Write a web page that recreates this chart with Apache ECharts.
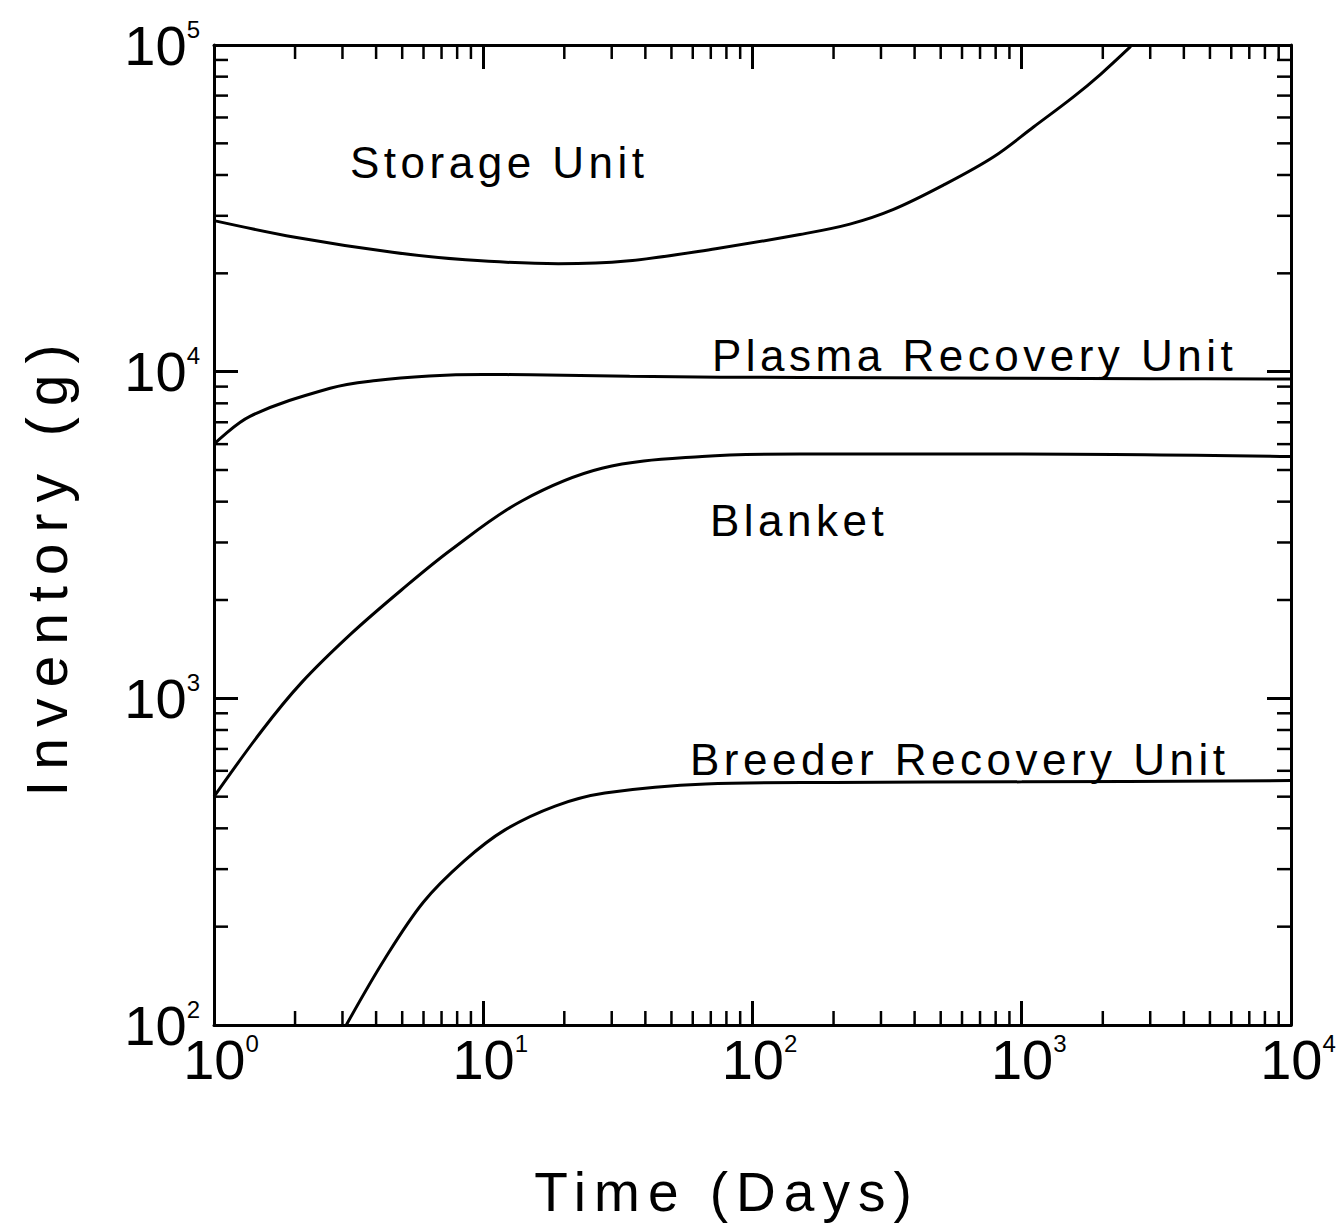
<!DOCTYPE html>
<html>
<head>
<meta charset="utf-8">
<script src="https://cdn.jsdelivr.net/npm/echarts@6/dist/echarts.min.js"></script>
<style>
  html, body { margin: 0; padding: 0; background: #fff; }
  #chart { width: 1344px; height: 1229px; }
  #chart text[style*="44px"], #chart text[font-size="44"], #chart text[font-size="44px"] { letter-spacing: 4.5px; }
  #chart text[style*="55px"], #chart text[font-size="55"], #chart text[font-size="55px"] { letter-spacing: 8px; }
  #chart text[style*="57px"], #chart text[font-size="57"], #chart text[font-size="57px"] { letter-spacing: 11px; }
</style>
</head>
<body>
<div id="chart"></div>
<script>
// ---- data ----
const storageDays = [1, 2, 4.6, 8.6, 19, 34, 73, 150, 230, 334, 513, 787, 1109, 1560, 1967, 2540];
const storageInv  = [29000, 25800, 23200, 22000, 21400, 21800, 23800, 26300, 28300, 31400, 37300, 45500, 56200, 69500, 81500, 99000];

const plasmaDays = [1, 1.36, 2.7, 4, 6.3, 10, 15, 35, 76, 300, 1000, 3000, 10000];
const plasmaInv  = [6000, 7300, 8900, 9400, 9700, 9800, 9780, 9680, 9620, 9580, 9550, 9520, 9500];

const blanketDays = [1, 1.5, 2.11, 3.24, 4.98, 7.6, 13.9, 27.6, 65, 150, 1000, 10000];
const blanketInv  = [500, 793, 1115, 1580, 2150, 2850, 4020, 5060, 5500, 5600, 5600, 5500];

const breederDays = [3.1, 4.3, 6.0, 8.5, 12, 18.5, 28.3, 67, 200, 1000, 10000];
const breederInv  = [100, 159, 238, 318, 395, 468, 513, 547, 553, 555, 560];

const xMinorTicks = [2,3,4,5,6,7,8,9, 20,30,40,50,60,70,80,90, 200,300,400,500,600,700,800,900, 2000,3000,4000,5000,6000,7000,8000,9000];
const yMinorTicks = [200,300,400,500,600,700,800,900, 2000,3000,4000,5000,6000,7000,8000,9000, 20000,30000,40000,50000,60000,70000,80000,90000];

const curveLabels = ['Storage Unit', 'Plasma Recovery Unit', 'Blanket', 'Breeder Recovery Unit'];
const xTitle = 'Time (Days)';
const yTitle = 'Inventory (g)';

// ---- chart ----
const FONT = 'Liberation Sans';
const chart = echarts.init(document.getElementById('chart'), null, { renderer: 'svg' });

const supLabel = v => '{b|10}{s|' + Math.round(Math.log10(v)) + '}';
const rich = {
  b: { fontSize: 56, fontFamily: FONT, color: '#000', lineHeight: 56, verticalAlign: 'top' },
  s: { fontSize: 24, fontFamily: FONT, color: '#000', lineHeight: 24, verticalAlign: 'top' }
};
const richX = {
  b: { fontSize: 56, fontFamily: FONT, color: '#000', lineHeight: 56, verticalAlign: 'top', padding: [0, 0, 0, 14] },
  s: { fontSize: 24, fontFamily: FONT, color: '#000', lineHeight: 24, verticalAlign: 'top' }
};

const lineStyle = { color: '#000', width: 3 };
const baseAxis = (extra) => Object.assign({
  type: 'log', logBase: 10,
  axisLine: { show: true, lineStyle: { color: '#000', width: 3 } },
  axisTick: { show: true, inside: true, length: 24, lineStyle: { color: '#000', width: 3 } },
  splitLine: { show: false },
  minorTick: { show: false },
  minorSplitLine: { show: false }
}, extra);

function tickSeries(axisDim, values) {
  return {
    type: 'custom',
    silent: true,
    clip: false,
    xAxisIndex: 0, yAxisIndex: 0,
    data: values.map(v => axisDim === 'x' ? [v, 1000] : [10, v]),
    renderItem: function (params, api) {
      const cs = params.coordSys;
      const p = api.coord([api.value(0), api.value(1)]);
      const L = 14, st = { stroke: '#000', lineWidth: 2.5 };
      if (axisDim === 'x') {
        const x = p[0];
        return { type: 'group', children: [
          { type: 'line', shape: { x1: x, y1: cs.y + cs.height, x2: x, y2: cs.y + cs.height - L }, style: st },
          { type: 'line', shape: { x1: x, y1: cs.y, x2: x, y2: cs.y + L }, style: st }
        ]};
      } else {
        const y = p[1];
        return { type: 'group', children: [
          { type: 'line', shape: { x1: cs.x, y1: y, x2: cs.x + L, y2: y }, style: st },
          { type: 'line', shape: { x1: cs.x + cs.width, y1: y, x2: cs.x + cs.width - L, y2: y }, style: st }
        ]};
      }
    }
  };
}

const mk = (days, inv) => days.map((d, i) => [d, inv[i]]);
const lineSeries = (name, days, inv) => ({
  name, type: 'line', xAxisIndex: 0, yAxisIndex: 0,
  data: mk(days, inv), showSymbol: false, symbol: 'none',
  smooth: 0.35,
  lineStyle, clip: true, silent: true
});

const labelText = (text, x, y) => ({
  type: 'text', x, y, silent: true,
  style: { text, fontSize: 44, fontFamily: FONT, fill: '#000', align: 'left', verticalAlign: 'middle' }
});

chart.setOption({
  backgroundColor: '#fff',
  animation: false,
  grid: { left: 214, right: 53, top: 45, bottom: 204, containLabel: false },
  xAxis: [
    baseAxis({ position: 'bottom', min: 1, max: 10000,
      axisLabel: { show: true, margin: 6, formatter: supLabel, rich: richX } }),
    baseAxis({ position: 'top', min: 1, max: 10000, axisLabel: { show: false } })
  ],
  yAxis: [
    baseAxis({ position: 'left', min: 100, max: 100000,
      axisLabel: { show: true, margin: 14, formatter: supLabel, rich } }),
    baseAxis({ position: 'right', min: 100, max: 100000, axisLabel: { show: false } })
  ],
  series: [
    lineSeries(curveLabels[0], storageDays, storageInv),
    lineSeries(curveLabels[1], plasmaDays, plasmaInv),
    lineSeries(curveLabels[2], blanketDays, blanketInv),
    lineSeries(curveLabels[3], breederDays, breederInv),
    tickSeries('x', xMinorTicks),
    tickSeries('y', yMinorTicks)
  ],
  graphic: [
    labelText(curveLabels[0], 350, 162),
    labelText(curveLabels[1], 712, 355),
    labelText(curveLabels[2], 710, 520),
    labelText(curveLabels[3], 690, 759),
    { type: 'text', x: 727, y: 1192, silent: true,
      style: { text: xTitle, fontSize: 55, fontFamily: FONT, fill: '#000', align: 'center', verticalAlign: 'middle' } },
    { type: 'text', x: 47, y: 565, rotation: Math.PI / 2, silent: true,
      style: { text: yTitle, fontSize: 57, fontFamily: FONT, fill: '#000', align: 'center', verticalAlign: 'middle' } }
  ]
});
</script>
</body>
</html>
